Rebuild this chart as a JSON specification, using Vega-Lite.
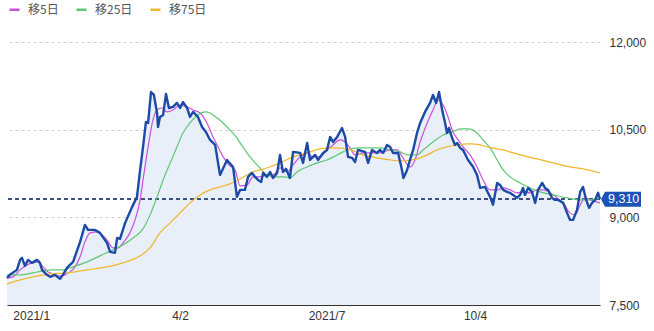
{
  "$schema": "https://vega.github.io/schema/vega-lite/v6.json",
  "width": 593,
  "height": 263,
  "autosize": "none",
  "padding": {"left": 7, "top": 42, "right": 54, "bottom": 26},
  "background": "white",
  "config": {
    "view": {"stroke": null},
    "font": "Liberation Sans"
  },
  "datasets": {
    "price": [
      {"i":0,"v":7965},{"i":1.2,"v":8016},{"i":4.1,"v":8101},{"i":5.4,"v":8272},{"i":6.2,"v":8306},{"i":7.4,"v":8170},{"i":8.7,"v":8272},{"i":10.3,"v":8221},{"i":12.4,"v":8272},{"i":13.6,"v":8221},{"i":14.5,"v":8101},{"i":16.5,"v":8016},{"i":17.8,"v":7982},{"i":19.8,"v":8016},{"i":21.9,"v":7947},{"i":23.1,"v":8016},{"i":24.8,"v":8135},{"i":26.0,"v":8187},{"i":27.3,"v":8238},{"i":30.2,"v":8580},{"i":32.2,"v":8871},{"i":33.5,"v":8785},{"i":36.4,"v":8785},{"i":38.4,"v":8734},{"i":41.3,"v":8563},{"i":42.6,"v":8409},{"i":44.6,"v":8392},{"i":45.5,"v":8648},{"i":46.7,"v":8631},{"i":48.8,"v":8905},{"i":51.7,"v":9179},{"i":53.7,"v":9350},{"i":55.0,"v":9811},{"i":56.2,"v":10205},{"i":57.4,"v":10632},{"i":58.3,"v":10615},{"i":59.5,"v":11145},{"i":60.7,"v":11094},{"i":62.0,"v":10786},{"i":62.4,"v":10546},{"i":63.2,"v":10718},{"i":64.5,"v":10752},{"i":65.7,"v":11111},{"i":66.9,"v":10871},{"i":68.6,"v":10889},{"i":70.2,"v":10957},{"i":71.5,"v":10871},{"i":72.7,"v":10974},{"i":74.4,"v":10871},{"i":75.6,"v":10718},{"i":76.9,"v":10803},{"i":78.9,"v":10718},{"i":80.6,"v":10546},{"i":82.2,"v":10461},{"i":83.9,"v":10324},{"i":86.0,"v":10239},{"i":88.0,"v":9726},{"i":90.9,"v":9982},{"i":93.4,"v":9862},{"i":95.0,"v":9350},{"i":96.3,"v":9469},{"i":98.3,"v":9469},{"i":99.6,"v":9692},{"i":101.2,"v":9760},{"i":102.5,"v":9692},{"i":103.7,"v":9640},{"i":105.0,"v":9606},{"i":105.8,"v":9760},{"i":107.4,"v":9692},{"i":108.7,"v":9777},{"i":109.9,"v":9674},{"i":111.6,"v":9760},{"i":112.8,"v":10068},{"i":114.0,"v":9777},{"i":115.3,"v":9829},{"i":116.9,"v":9674},{"i":118.2,"v":10119},{"i":121.1,"v":10102},{"i":122.3,"v":9931},{"i":124.0,"v":10273},{"i":125.2,"v":9982},{"i":127.3,"v":10068},{"i":128.5,"v":9982},{"i":130.6,"v":10102},{"i":132.2,"v":10153},{"i":133.5,"v":10376},{"i":134.7,"v":10290},{"i":136.4,"v":10376},{"i":138.4,"v":10529},{"i":139.7,"v":10376},{"i":140.9,"v":10034},{"i":142.6,"v":10017},{"i":143.8,"v":9948},{"i":145.0,"v":10153},{"i":147.9,"v":10119},{"i":149.2,"v":9931},{"i":150.8,"v":10153},{"i":152.9,"v":10102},{"i":154.1,"v":10153},{"i":155.4,"v":10102},{"i":157.0,"v":10239},{"i":158.3,"v":10205},{"i":159.5,"v":10102},{"i":161.6,"v":10102},{"i":163.0,"v":9845},{"i":163.8,"v":9674},{"i":165.3,"v":9811},{"i":166.5,"v":9982},{"i":167.8,"v":10153},{"i":169.4,"v":10444},{"i":170.7,"v":10615},{"i":172.7,"v":10803},{"i":174.8,"v":10957},{"i":176.0,"v":11094},{"i":177.3,"v":10957},{"i":178.5,"v":11145},{"i":179.8,"v":10837},{"i":181.0,"v":10615},{"i":181.8,"v":10444},{"i":182.6,"v":10529},{"i":183.9,"v":10358},{"i":185.1,"v":10239},{"i":186.0,"v":10273},{"i":187.2,"v":10187},{"i":188.4,"v":10153},{"i":190.5,"v":9982},{"i":192.6,"v":9862},{"i":194.2,"v":9726},{"i":195.5,"v":9503},{"i":197.5,"v":9520},{"i":199.6,"v":9350},{"i":200.8,"v":9213},{"i":202.5,"v":9589},{"i":203.7,"v":9555},{"i":205.0,"v":9469},{"i":206.6,"v":9435},{"i":207.9,"v":9418},{"i":209.1,"v":9384},{"i":210.7,"v":9333},{"i":212.0,"v":9384},{"i":213.2,"v":9503},{"i":214.0,"v":9384},{"i":215.3,"v":9503},{"i":216.9,"v":9435},{"i":218.2,"v":9247},{"i":219.4,"v":9469},{"i":221.1,"v":9589},{"i":222.3,"v":9503},{"i":223.6,"v":9469},{"i":225.2,"v":9333},{"i":226.4,"v":9298},{"i":227.7,"v":9298},{"i":229.8,"v":9247},{"i":231.4,"v":9076},{"i":232.6,"v":8956},{"i":233.9,"v":8956},{"i":235.5,"v":9127},{"i":236.8,"v":9435},{"i":238.0,"v":9520},{"i":239.3,"v":9298},{"i":240.5,"v":9162},{"i":241.7,"v":9247},{"i":243.0,"v":9298},{"i":244.2,"v":9420},{"i":245,"v":9310}
    ],
    "ma": [
      {"i":0,"v":7964,"s":"移5日"},{"i":2.5,"v":7982,"s":"移5日"},{"i":5.4,"v":8101,"s":"移5日"},{"i":8.3,"v":8187,"s":"移5日"},{"i":10.7,"v":8221,"s":"移5日"},{"i":12.8,"v":8238,"s":"移5日"},{"i":14.9,"v":8153,"s":"移5日"},{"i":16.9,"v":8067,"s":"移5日"},{"i":19.0,"v":8033,"s":"移5日"},{"i":21.9,"v":7999,"s":"移5日"},{"i":24.0,"v":8016,"s":"移5日"},{"i":26.0,"v":8067,"s":"移5日"},{"i":28.1,"v":8153,"s":"移5日"},{"i":30.2,"v":8324,"s":"移5日"},{"i":32.2,"v":8580,"s":"移5日"},{"i":34.3,"v":8734,"s":"移5日"},{"i":37.2,"v":8751,"s":"移5日"},{"i":39.3,"v":8700,"s":"移5日"},{"i":41.3,"v":8614,"s":"移5日"},{"i":43.8,"v":8477,"s":"移5日"},{"i":45.9,"v":8477,"s":"移5日"},{"i":47.9,"v":8563,"s":"移5日"},{"i":50.8,"v":8734,"s":"移5日"},{"i":52.9,"v":8956,"s":"移5日"},{"i":55.0,"v":9298,"s":"移5日"},{"i":56.2,"v":9640,"s":"移5日"},{"i":58.3,"v":10205,"s":"移5日"},{"i":60.3,"v":10666,"s":"移5日"},{"i":62.0,"v":10837,"s":"移5日"},{"i":64.0,"v":10871,"s":"移5日"},{"i":66.1,"v":10803,"s":"移5日"},{"i":68.6,"v":10837,"s":"移5日"},{"i":71.5,"v":10922,"s":"移5日"},{"i":74.4,"v":10889,"s":"移5日"},{"i":76.9,"v":10837,"s":"移5日"},{"i":79.8,"v":10786,"s":"移5日"},{"i":82.6,"v":10615,"s":"移5日"},{"i":85.1,"v":10376,"s":"移5日"},{"i":86.8,"v":10239,"s":"移5日"},{"i":89.3,"v":10034,"s":"移5日"},{"i":92.1,"v":9880,"s":"移5日"},{"i":94.2,"v":9811,"s":"移5日"},{"i":96.3,"v":9538,"s":"移5日"},{"i":99.2,"v":9555,"s":"移5日"},{"i":101.7,"v":9692,"s":"移5日"},{"i":104.5,"v":9692,"s":"移5日"},{"i":107.4,"v":9726,"s":"移5日"},{"i":109.9,"v":9726,"s":"移5日"},{"i":112.8,"v":9845,"s":"移5日"},{"i":115.7,"v":9777,"s":"移5日"},{"i":118.2,"v":9897,"s":"移5日"},{"i":121.1,"v":10034,"s":"移5日"},{"i":124.0,"v":10102,"s":"移5日"},{"i":126.4,"v":10034,"s":"移5日"},{"i":129.3,"v":10034,"s":"移5日"},{"i":132.2,"v":10153,"s":"移5日"},{"i":134.7,"v":10239,"s":"移5日"},{"i":137.6,"v":10324,"s":"移5日"},{"i":139.7,"v":10290,"s":"移5日"},{"i":141.7,"v":10187,"s":"移5日"},{"i":143.8,"v":10068,"s":"移5日"},{"i":147.1,"v":10102,"s":"移5日"},{"i":150.0,"v":10102,"s":"移5日"},{"i":154.1,"v":10102,"s":"移5日"},{"i":158.3,"v":10153,"s":"移5日"},{"i":161.2,"v":10153,"s":"移5日"},{"i":163.6,"v":10016,"s":"移5日"},{"i":166.5,"v":9862,"s":"移5日"},{"i":168.6,"v":9982,"s":"移5日"},{"i":170.7,"v":10290,"s":"移5日"},{"i":173.6,"v":10615,"s":"移5日"},{"i":176.0,"v":10837,"s":"移5日"},{"i":178.1,"v":11008,"s":"移5日"},{"i":180.2,"v":10922,"s":"移5日"},{"i":182.2,"v":10718,"s":"移5日"},{"i":184.3,"v":10461,"s":"移5日"},{"i":186.4,"v":10324,"s":"移5日"},{"i":188.4,"v":10205,"s":"移5日"},{"i":191.3,"v":10068,"s":"移5日"},{"i":194.2,"v":9862,"s":"移5日"},{"i":196.7,"v":9640,"s":"移5日"},{"i":199.6,"v":9469,"s":"移5日"},{"i":202.5,"v":9469,"s":"移5日"},{"i":205.0,"v":9503,"s":"移5日"},{"i":207.9,"v":9469,"s":"移5日"},{"i":210.7,"v":9418,"s":"移5日"},{"i":213.2,"v":9435,"s":"移5日"},{"i":216.1,"v":9418,"s":"移5日"},{"i":219.0,"v":9469,"s":"移5日"},{"i":221.5,"v":9469,"s":"移5日"},{"i":224.4,"v":9418,"s":"移5日"},{"i":227.3,"v":9333,"s":"移5日"},{"i":229.8,"v":9247,"s":"移5日"},{"i":232.6,"v":9076,"s":"移5日"},{"i":234.7,"v":9042,"s":"移5日"},{"i":236.8,"v":9213,"s":"移5日"},{"i":238.8,"v":9333,"s":"移5日"},{"i":240.9,"v":9298,"s":"移5日"},{"i":245,"v":9247,"s":"移5日"},
      {"i":0,"v":8016,"s":"移25日"},{"i":5.4,"v":8016,"s":"移25日"},{"i":10.7,"v":8050,"s":"移25日"},{"i":14.9,"v":8084,"s":"移25日"},{"i":19.0,"v":8101,"s":"移25日"},{"i":23.1,"v":8101,"s":"移25日"},{"i":27.3,"v":8153,"s":"移25日"},{"i":33.1,"v":8238,"s":"移25日"},{"i":38.4,"v":8341,"s":"移25日"},{"i":43.8,"v":8443,"s":"移25日"},{"i":47.9,"v":8529,"s":"移25日"},{"i":52.1,"v":8648,"s":"移25日"},{"i":56.2,"v":8802,"s":"移25日"},{"i":59.1,"v":9042,"s":"移25日"},{"i":62.0,"v":9350,"s":"移25日"},{"i":64.5,"v":9640,"s":"移25日"},{"i":67.4,"v":9931,"s":"移25日"},{"i":70.2,"v":10205,"s":"移25日"},{"i":72.7,"v":10444,"s":"移25日"},{"i":75.6,"v":10615,"s":"移25日"},{"i":78.9,"v":10752,"s":"移25日"},{"i":81.8,"v":10803,"s":"移25日"},{"i":83.9,"v":10786,"s":"移25日"},{"i":86.8,"v":10700,"s":"移25日"},{"i":89.3,"v":10615,"s":"移25日"},{"i":92.1,"v":10495,"s":"移25日"},{"i":95.0,"v":10358,"s":"移25日"},{"i":96.3,"v":10273,"s":"移25日"},{"i":100.4,"v":10034,"s":"移25日"},{"i":104.5,"v":9845,"s":"移25日"},{"i":107.4,"v":9726,"s":"移25日"},{"i":111.6,"v":9692,"s":"移25日"},{"i":114.9,"v":9692,"s":"移25日"},{"i":116.9,"v":9674,"s":"移25日"},{"i":119.8,"v":9777,"s":"移25日"},{"i":124.0,"v":9862,"s":"移25日"},{"i":128.1,"v":9931,"s":"移25日"},{"i":132.2,"v":9982,"s":"移25日"},{"i":136.4,"v":10068,"s":"移25日"},{"i":140.5,"v":10153,"s":"移25日"},{"i":145.0,"v":10187,"s":"移25日"},{"i":150.0,"v":10187,"s":"移25日"},{"i":154.1,"v":10187,"s":"移25日"},{"i":158.3,"v":10153,"s":"移25日"},{"i":162.4,"v":10119,"s":"移25日"},{"i":165.7,"v":10068,"s":"移25日"},{"i":169.4,"v":10068,"s":"移25日"},{"i":171.9,"v":10153,"s":"移25日"},{"i":176.0,"v":10290,"s":"移25日"},{"i":180.2,"v":10410,"s":"移25日"},{"i":183.9,"v":10461,"s":"移25日"},{"i":187.2,"v":10512,"s":"移25日"},{"i":190.5,"v":10512,"s":"移25日"},{"i":194.2,"v":10444,"s":"移25日"},{"i":196.7,"v":10324,"s":"移25日"},{"i":199.6,"v":10187,"s":"移25日"},{"i":202.5,"v":9982,"s":"移25日"},{"i":205.0,"v":9811,"s":"移25日"},{"i":207.9,"v":9692,"s":"移25日"},{"i":212.0,"v":9589,"s":"移25日"},{"i":216.1,"v":9503,"s":"移25日"},{"i":220.2,"v":9435,"s":"移25日"},{"i":225.6,"v":9384,"s":"移25日"},{"i":231.4,"v":9333,"s":"移25日"},{"i":236.8,"v":9298,"s":"移25日"},{"i":240.9,"v":9298,"s":"移25日"},{"i":245,"v":9333,"s":"移25日"},
      {"i":0,"v":7862,"s":"移75日"},{"i":5.4,"v":7930,"s":"移75日"},{"i":10.7,"v":7982,"s":"移75日"},{"i":17.8,"v":8033,"s":"移75日"},{"i":24.8,"v":8050,"s":"移75日"},{"i":33.1,"v":8101,"s":"移75日"},{"i":41.3,"v":8153,"s":"移75日"},{"i":47.9,"v":8221,"s":"移75日"},{"i":55.0,"v":8341,"s":"移75日"},{"i":59.1,"v":8477,"s":"移75日"},{"i":63.2,"v":8734,"s":"移75日"},{"i":67.4,"v":8905,"s":"移75日"},{"i":71.5,"v":9076,"s":"移75日"},{"i":75.6,"v":9247,"s":"移75日"},{"i":79.8,"v":9384,"s":"移75日"},{"i":83.9,"v":9469,"s":"移75日"},{"i":88.0,"v":9520,"s":"移75日"},{"i":92.1,"v":9572,"s":"移75日"},{"i":96.3,"v":9657,"s":"移75日"},{"i":101.7,"v":9777,"s":"移75日"},{"i":107.4,"v":9845,"s":"移75日"},{"i":112.8,"v":9931,"s":"移75日"},{"i":118.2,"v":10034,"s":"移75日"},{"i":124.0,"v":10102,"s":"移75日"},{"i":129.3,"v":10170,"s":"移75日"},{"i":134.7,"v":10187,"s":"移75日"},{"i":140.5,"v":10170,"s":"移75日"},{"i":147.1,"v":10068,"s":"移75日"},{"i":152.9,"v":10016,"s":"移75日"},{"i":158.3,"v":9982,"s":"移75日"},{"i":163.6,"v":9965,"s":"移75日"},{"i":169.4,"v":9999,"s":"移75日"},{"i":173.6,"v":10068,"s":"移75日"},{"i":177.7,"v":10153,"s":"移75日"},{"i":181.8,"v":10205,"s":"移75日"},{"i":186.0,"v":10239,"s":"移75日"},{"i":191.3,"v":10256,"s":"移75日"},{"i":195.5,"v":10239,"s":"移75日"},{"i":198.3,"v":10205,"s":"移75日"},{"i":205.0,"v":10153,"s":"移75日"},{"i":212.0,"v":10068,"s":"移75日"},{"i":219.0,"v":9999,"s":"移75日"},{"i":225.6,"v":9931,"s":"移75日"},{"i":232.6,"v":9862,"s":"移75日"},{"i":238.0,"v":9829,"s":"移75日"},{"i":245,"v":9761,"s":"移75日"}
    ]
  },
  "encoding": {
    "x": {
      "field": "i",
      "type": "quantitative",
      "scale": {"domain": [0, 245], "nice": false, "zero": false},
      "axis": {
        "title": null,
        "values": [10, 71.5, 132, 193.4],
        "labelExpr": "datum.value == 10 ? '2021/1' : datum.value == 71.5 ? '4/2' : datum.value == 132 ? '2021/7' : '10/4'",
        "grid": false,
        "ticks": false,
        "domain": true,
        "domainColor": "#333333",
        "domainWidth": 1,
        "labelColor": "#333333",
        "labelFontSize": 12,
        "labelPadding": 5,
        "labelFlush": false
      }
    },
    "y": {
      "field": "v",
      "type": "quantitative",
      "scale": {"domain": [7500, 12000], "nice": false, "zero": false},
      "axis": {
        "orient": "right",
        "title": null,
        "values": [7500, 9000, 10500, 12000],
        "format": ",.0f",
        "domain": false,
        "ticks": false,
        "grid": true,
        "gridColor": "#cccccc",
        "gridDash": [3, 3],
        "gridWidth": 1,
        "labelColor": "#333333",
        "labelFontSize": 12,
        "labelPadding": 9
      }
    }
  },
  "layer": [
    {
      "data": {"name": "price"},
      "mark": {"type": "area", "color": "#e8eff9", "opacity": 1},
      "encoding": {"y2": {"datum": 7500}}
    },
    {
      "data": {"name": "price"},
      "mark": {"type": "rule", "color": "#3a5282", "strokeDash": [4, 3], "strokeWidth": 1},
      "encoding": {"x": null, "y": {"datum": 9310}}
    },
    {
      "data": {"name": "ma"},
      "mark": {"type": "line", "strokeWidth": 1.2, "interpolate": "monotone"},
      "encoding": {
        "color": {
          "field": "s",
          "type": "nominal",
          "scale": {"domain": ["移5日", "移25日", "移75日"], "range": ["#cc4fdc", "#5dc872", "#f0b62c"]},
          "legend": {
            "title": null,
            "orient": "none",
            "direction": "horizontal",
            "legendX": 1,
            "legendY": -39,
            "padding": 0,
            "symbolType": "stroke",
            "symbolSize": 100,
            "symbolStrokeWidth": 2.5,
            "labelFont": "Noto Sans CJK JP",
            "labelFontSize": 12,
            "labelColor": "#555555",
            "labelOffset": 7,
            "columnPadding": 12
          }
        }
      }
    },
    {
      "data": {"name": "price"},
      "mark": {"type": "line", "color": "#1b4ba6", "strokeWidth": 2.4, "strokeJoin": "round"}
    },
    {
      "data": {"name": "price"},
      "transform": [{"filter": "datum.i == 245"}],
      "mark": {"type": "point", "filled": true, "opacity": 1, "color": "#1d51b6", "size": 4, "shape": "M1,0 L5,-7.5 L41,-7.5 L41,7.5 L5,7.5 Z"}
    },
    {
      "data": {"name": "price"},
      "transform": [{"filter": "datum.i == 245"}],
      "mark": {"type": "text", "color": "white", "align": "left", "baseline": "middle", "dx": 8, "fontSize": 12.5, "font": "Liberation Sans"},
      "encoding": {"text": {"field": "v", "type": "quantitative", "format": ",.0f"}}
    }
  ]
}
